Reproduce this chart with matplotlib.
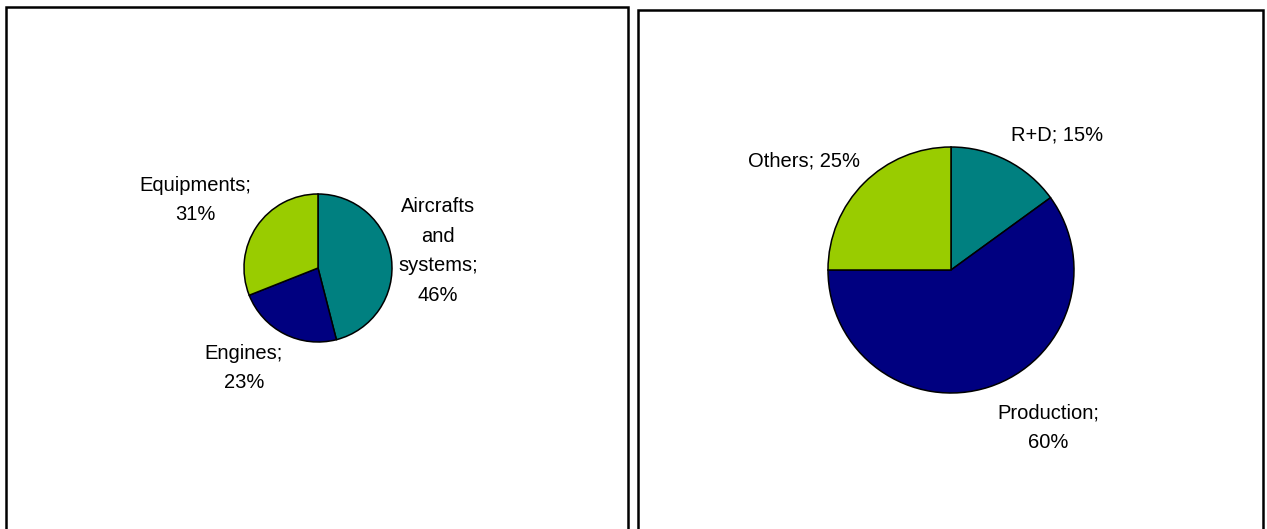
import matplotlib.pyplot as plt
from matplotlib.patches import Rectangle

plt.rcParams['font.family'] = ['Liberation Sans', 'DejaVu Sans']

# left pie: share by sector
sectores = ['Aircrafts\nand\nsystems', 'Engines', 'Equipments']
valores_sect = [46, 23, 31]

# right pie: share by activity
actividades = ['R+D', 'Production', 'Others']
valores_act = [15, 60, 25]

colores = ['#008080', '#000080', '#99CC00']

# label centres in pixels (x, y from top) and the separator used
pos_sect = [(438, 251), (244, 368), (195, 200)]
sep_sect = [';\n', ';\n', ';\n']
pos_act = [(1057, 135), (1048, 428), (804, 161)]
sep_act = ['; ', ';\n', '; ']

W, H = 1267, 529
fig = plt.figure(figsize=(W / 100, H / 100), dpi=100)
ax = fig.add_axes([0, 0, 1, 1])
ax.set_xlim(0, W)
ax.set_ylim(0, H)
ax.set_aspect('equal')
ax.axis('off')

# panel frames
ax.add_patch(Rectangle((6, -20), 622, H - 7 + 20, fill=False, lw=1.8, ec='black'))
ax.add_patch(Rectangle((638, -20), 625, H - 10 + 20, fill=False, lw=1.8, ec='black'))


def tarta(valores, nombres, seps, posiciones, centro, radio):
    ax.pie(valores, colors=colores, startangle=90, counterclock=False,
           center=(centro[0], H - centro[1]), radius=radio,
           wedgeprops=dict(edgecolor='black', linewidth=1.1))
    for v, n, s, (x, y) in zip(valores, nombres, seps, posiciones):
        ax.text(x, H - y, f'{n}{s}{v}%', ha='center', va='center',
                fontsize=14.5, linespacing=1.7, color='black')


tarta(valores_sect, sectores, sep_sect, pos_sect, (318, 268), 74)
tarta(valores_act, actividades, sep_act, pos_act, (951, 270), 123)

ax.set_xlim(0, W)
ax.set_ylim(0, H)

fig.savefig('out.png', dpi=100)
